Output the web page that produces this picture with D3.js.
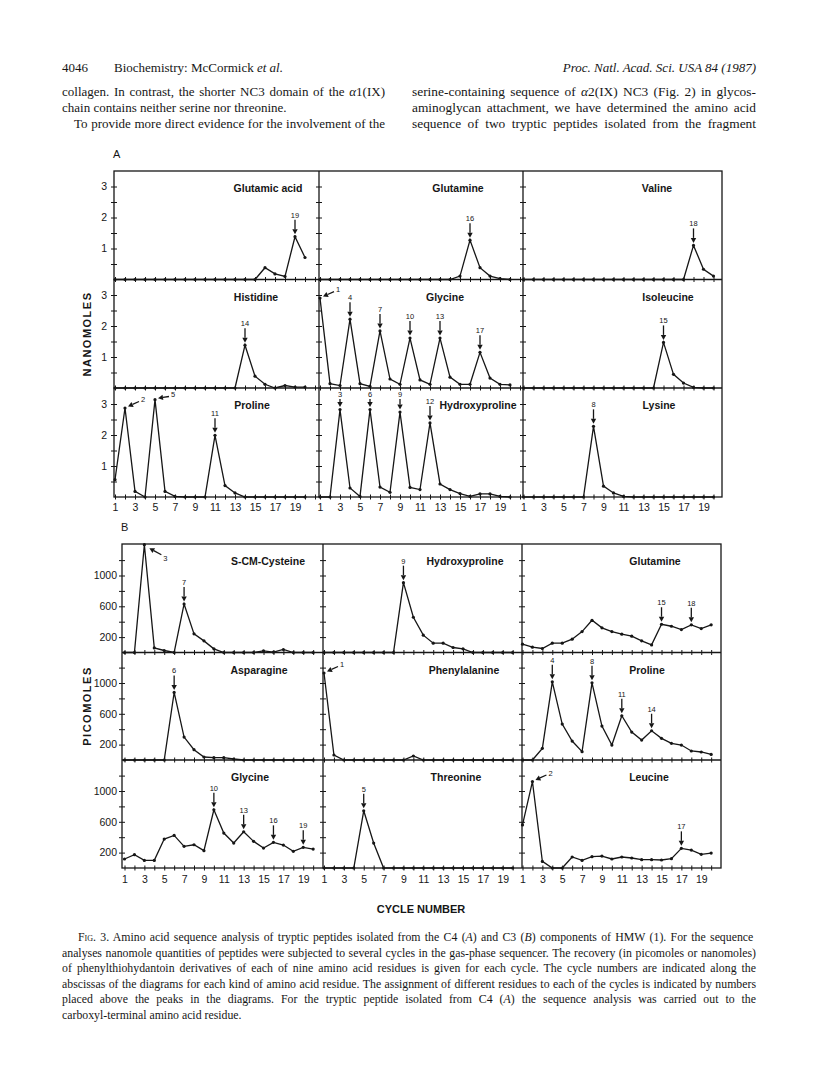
<!DOCTYPE html>
<html>
<head>
<meta charset="utf-8">
<script src="https://cdn.jsdelivr.net/npm/d3@7"></script>
<style>
  body { margin: 0; background: #fff; }
</style>
</head>
<body>
<div id="page"></div>
<script>
// cycle numbers along every abscissa
const cycles = d3.range(1, 21);
const cycleLabels = d3.range(1, 20, 2);

// Fig. 3A (C4 peptide), nanomoles per cycle 1..20
const gluAcidA = [0, 0, 0, 0, 0, 0, 0, 0, 0, 0, 0, 0, 0, 0, 0, 0.38, 0.18, 0.1, 1.38, 0.71];
const glnA = [0, 0, 0, 0, 0, 0, 0, 0, 0, 0, 0, 0, 0, 0, 0.11, 1.27, 0.38, 0.11, 0.03, 0];
const valA = [0, 0, 0, 0, 0, 0, 0, 0, 0, 0, 0, 0, 0, 0, 0, 0, 0, 1.1, 0.33, 0.11];
const hisA = [0, 0, 0, 0, 0, 0, 0, 0, 0, 0, 0, 0, 0, 1.38, 0.38, 0.12, 0, 0.08, 0.03, 0.03];
const glyA = [2.9, 0.14, 0.08, 2.22, 0.14, 0.05, 1.84, 0.29, 0.12, 1.61, 0.26, 0.12, 1.61, 0.35, 0.12, 0.12, 1.15, 0.32, 0.12, 0.1];
const ileA = [0, 0, 0, 0, 0, 0, 0, 0, 0, 0, 0, 0, 0, 0, 1.47, 0.44, 0.16, 0.02, 0, 0];
const proA = [0.56, 2.87, 0.18, 0, 3.14, 0.18, 0.02, 0, 0, 0, 1.99, 0.37, 0.13, 0, 0, 0, 0, 0, 0, 0];
const hypA = [0, 0, 2.82, 0.29, 0.02, 2.82, 0.32, 0.15, 2.74, 0.31, 0.24, 2.39, 0.42, 0.24, 0.11, 0.02, 0.1, 0.1, 0.02, 0];
const lysA = [0, 0, 0, 0, 0, 0, 0, 2.28, 0.35, 0.13, 0.02, 0, 0, 0, 0, 0, 0, 0, 0, 0];

// Fig. 3B (C3 peptide), picomoles per cycle 1..20
const cysB = [0, 0, 1400, 60, 26, 0, 630, 242, 151, 48, 0, 0, 0, 0, 22, 4, 39, 0, 0, 0];
const hypB = [0, 0, 0, 0, 0, 0, 0, 0, 907, 458, 225, 121, 121, 65, 48, 0, 0, 0, 0, 0];
const glnB = [108, 69, 52, 121, 121, 173, 272, 419, 320, 272, 238, 212, 151, 99, 367, 341, 298, 359, 311, 359];
const asnB = [0, 0, 0, 0, 0, 877, 298, 134, 39, 30, 30, 13, 0, 0, 0, 0, 0, 0, 0, 0];
const pheB = [1130, 65, 0, 0, 0, 0, 0, 0, 0, 52, 0, 0, 0, 0, 0, 0, 0, 0, 0, 0];
const proB = [0, 0, 151, 1015, 467, 246, 108, 1002, 441, 194, 575, 363, 259, 380, 281, 216, 194, 117, 104, 73];
const glyB = [117, 173, 99, 99, 376, 423, 281, 302, 225, 756, 454, 324, 471, 346, 259, 333, 298, 216, 268, 246];
const thrB = [0, 0, 0, 0, 743, 324, 0, 0, 0, 0, 0, 0, 0, 0, 0, 0, 0, 0, 0, 0];
const leuB = [560, 1123, 86, 0, 0, 143, 99, 147, 155, 117, 143, 130, 108, 108, 104, 121, 255, 233, 177, 194];

// residue assignments: cycles with a vertical arrow, and cycles with a slanted one
const panelsA = [
  [
    { name: "Glutamic acid", values: gluAcidA, marks: [19], slanted: [] },
    { name: "Glutamine", values: glnA, marks: [16], slanted: [] },
    { name: "Valine", values: valA, marks: [18], slanted: [] },
  ],
  [
    { name: "Histidine", values: hisA, marks: [14], slanted: [] },
    { name: "Glycine", values: glyA, marks: [4, 7, 10, 13, 17], slanted: [1] },
    { name: "Isoleucine", values: ileA, marks: [15], slanted: [] },
  ],
  [
    { name: "Proline", values: proA, marks: [11], slanted: [2, 5] },
    { name: "Hydroxyproline", values: hypA, marks: [3, 6, 9, 12], slanted: [] },
    { name: "Lysine", values: lysA, marks: [8], slanted: [] },
  ],
];

const panelsB = [
  [
    { name: "S-CM-Cysteine", values: cysB, marks: [7], slanted: [], below: [3] },
    { name: "Hydroxyproline", values: hypB, marks: [9], slanted: [] },
    { name: "Glutamine", values: glnB, marks: [15, 18], slanted: [] },
  ],
  [
    { name: "Asparagine", values: asnB, marks: [6], slanted: [] },
    { name: "Phenylalanine", values: pheB, marks: [], slanted: [1] },
    { name: "Proline", values: proB, marks: [4, 8, 11, 14], slanted: [] },
  ],
  [
    { name: "Glycine", values: glyB, marks: [10, 13, 16, 19], slanted: [] },
    { name: "Threonine", values: thrB, marks: [5], slanted: [] },
    { name: "Leucine", values: leuB, marks: [17], slanted: [2] },
  ],
];

// layout only: centre of each panel title, px from the panel's left edge
const titleCentresA = [[154, 139, 134], [142, 126, 145], [138, 159, 136]];
const titleCentresB = [[146, 142, 133], [137, 141, 125], [128, 133, 127]];

const ink = "#161616";
const sans = "'Liberation Sans', Arial, Helvetica, sans-serif";
const serif = "'Liberation Serif', 'Times New Roman', serif";

const svg = d3
  .select("#page")
  .append("svg")
  .attr("width", 816)
  .attr("height", 1072)
  .style("display", "block");

svg.append("rect").attr("width", 816).attr("height", 1072).attr("fill", "#fff");

// ---------- running text ----------
function textLine(parts, x, y, opts = {}) {
  const t = svg
    .append("text")
    .attr("x", x)
    .attr("y", y)
    .attr("font-family", serif)
    .attr("font-size", opts.size || 13)
    .attr("fill", ink)
    .attr("text-anchor", opts.anchor || "start");
  parts.forEach(([s, style]) => {
    const sp = t.append("tspan").text(s);
    if (style === "i") sp.attr("font-style", "italic");
    if (style === "sc") sp.style("font-variant", "small-caps");
  });
  if (opts.justifyTo) {
    const natural = t.node().getComputedTextLength();
    const str = t.text();
    const gaps = (str.match(/ /g) || []).length;
    if (gaps) t.style("word-spacing", (opts.justifyTo - x - natural) / gaps + "px");
  }
  return t;
}

textLine([["4046"]], 62, 72);
textLine([["Biochemistry: McCormick "], ["et al.", "i"]], 114, 72);
textLine([["Proc. Natl. Acad. Sci. USA 84 (1987)", "i"]], 756, 72, { anchor: "end" });

textLine([["collagen. In contrast, the shorter NC3 domain of the "], ["α", "i"], ["1(IX)"]], 62, 96, { justifyTo: 385 });
textLine([["chain contains neither serine nor threonine."]], 62, 112);
textLine([["To provide more direct evidence for the involvement of the"]], 74, 128, { justifyTo: 385 });
textLine([["serine-containing sequence of "], ["α", "i"], ["2(IX) NC3 (Fig. 2) in glycos-"]], 412, 96, { justifyTo: 756, size: 13.4 });
textLine([["aminoglycan attachment, we have determined the amino acid"]], 412, 112, { justifyTo: 756, size: 13.4 });
textLine([["sequence of two tryptic peptides isolated from the fragment"]], 412, 128, { justifyTo: 756, size: 13.4 });

// ---------- figure panels ----------
function arrowHead(g, tip, tail, len, half) {
  const dx = tip[0] - tail[0], dy = tip[1] - tail[1];
  const d = Math.hypot(dx, dy);
  const ux = dx / d, uy = dy / d;
  const bx = tip[0] - ux * len, by = tip[1] - uy * len;
  g.append("path")
    .attr("d", `M${tip[0]},${tip[1]}L${bx - uy * half},${by + ux * half}L${bx + uy * half},${by - ux * half}Z`)
    .attr("fill", ink);
  g.append("line")
    .attr("x1", tail[0]).attr("y1", tail[1])
    .attr("x2", bx).attr("y2", by)
    .attr("stroke", ink).attr("stroke-width", 1.3);
}

function drawFigure(fig) {
  const g = svg.append("g").attr("color", ink);
  const { cols, rows } = fig;
  const nC = cols.length - 1, nR = rows.length - 1;

  fig.panels.forEach((row, r) => {
    row.forEach((p, c) => {
      const x0 = cols[c], x1 = cols[c + 1];
      const yTop = rows[r], yBot = rows[r + 1];
      const start = x0 + fig.offset[c];
      const x = d3.scaleLinear().domain([1, 20]).range([start, start + 19 * fig.step]);
      const y = d3.scaleLinear().domain(fig.yDomain).range([yBot, yBot - fig.yPx]);

      // crossing tick marks on the abscissa
      const xt = d3.range(1, 22).filter((v) => x(v) < x1 - 2);
      g.append("g")
        .attr("transform", `translate(0,${yBot})`)
        .call(d3.axisBottom(x).tickValues(xt).tickSize(2.5).tickFormat(""))
        .call((a) => a.select(".domain").remove());
      g.append("g")
        .attr("transform", `translate(0,${yBot})`)
        .call(d3.axisTop(x).tickValues(xt).tickSize(2.5).tickFormat(""))
        .call((a) => a.select(".domain").remove());

      // crossing tick marks on the ordinate (left axis and column dividers)
      g.append("g")
        .attr("transform", `translate(${x0},0)`)
        .call(d3.axisLeft(y).tickValues(fig.yTicks).tickSize(3).tickFormat(""))
        .call((a) => a.select(".domain").remove());
      g.append("g")
        .attr("transform", `translate(${x0},0)`)
        .call(d3.axisRight(y).tickValues(fig.yTicks).tickSize(3).tickFormat(""))
        .call((a) => a.select(".domain").remove());

      if (c === 0) {
        g.append("g")
          .attr("transform", `translate(${x0},0)`)
          .call(d3.axisLeft(y).tickValues(fig.yLabels).tickSize(0).tickPadding(fig.yPad).tickFormat(d3.format("d")))
          .call((a) => a.select(".domain").remove())
          .selectAll("text")
          .attr("font-family", sans)
          .attr("font-size", 10.5)
          .attr("fill", ink);
      }
      if (r === nR - 1) {
        g.append("g")
          .attr("transform", `translate(0,${yBot})`)
          .call(d3.axisBottom(x).tickValues(cycleLabels).tickSize(0).tickPadding(fig.xPad).tickFormat(d3.format("d")))
          .call((a) => a.select(".domain").remove())
          .selectAll("text")
          .attr("font-family", sans)
          .attr("font-size", 10.5)
          .attr("fill", ink);
      }

      const pts = cycles.map((cy, i) => ({ c: cy, v: p.values[i] }));
      g.append("path")
        .datum(pts)
        .attr("fill", "none")
        .attr("stroke", ink)
        .attr("stroke-width", 1.3)
        .attr("stroke-linejoin", "miter")
        .attr("d", d3.line().x((d) => x(d.c)).y((d) => y(d.v)));
      g.selectAll(null)
        .data(pts)
        .enter()
        .append("circle")
        .attr("cx", (d) => x(d.c))
        .attr("cy", (d) => y(d.v))
        .attr("r", 1.6)
        .attr("fill", ink);

      g.append("text")
        .attr("x", x0 + fig.titleCentres[r][c])
        .attr("y", yTop + 21)
        .attr("text-anchor", "middle")
        .attr("font-family", sans)
        .attr("font-weight", "bold")
        .attr("font-size", 10.5)
        .attr("fill", ink)
        .text(p.name);

      // vertical arrows with the cycle number
      p.marks.forEach((cy) => {
        const px = x(cy), py = y(p.values[cy - 1]);
        const ty = Math.max(py - 19, yTop + 9);
        g.append("text")
          .attr("x", px)
          .attr("y", ty)
          .attr("text-anchor", "middle")
          .attr("font-family", sans)
          .attr("font-size", 7.5)
          .attr("fill", ink)
          .text(cy);
        arrowHead(g, [px, py - 2.5], [px, ty + 2], 5, 2.7);
      });

      // slanted arrows coming from the upper right
      p.slanted.forEach((cy) => {
        const px = x(cy), py = y(p.values[cy - 1]);
        const ly = Math.max(py - 6, yTop + 9);
        arrowHead(g, [px + 3, py - 1.5], [px + 14, ly - 0.5], 5, 2.7);
        g.append("text")
          .attr("x", px + 16)
          .attr("y", ly)
          .attr("font-family", sans)
          .attr("font-size", 7.5)
          .attr("fill", ink)
          .text(cy);
      });

      // slanted arrows coming from the lower right
      (p.below || []).forEach((cy) => {
        const px = x(cy), py = y(p.values[cy - 1]);
        arrowHead(g, [px + 5, py + 3.5], [px + 17, py + 10], 5, 2.7);
        g.append("text")
          .attr("x", px + 19)
          .attr("y", py + 16)
          .attr("font-family", sans)
          .attr("font-size", 7.5)
          .attr("fill", ink)
          .text(cy);
      });
    });
  });

  // frame, row separators and column separators
  g.append("rect")
    .attr("x", cols[0])
    .attr("y", rows[0])
    .attr("width", cols[nC] - cols[0])
    .attr("height", rows[nR] - rows[0])
    .attr("fill", "none")
    .attr("stroke", ink)
    .attr("stroke-width", 1.3);
  rows.slice(1, -1).forEach((yy) =>
    g.append("line").attr("x1", cols[0]).attr("x2", cols[nC]).attr("y1", yy).attr("y2", yy)
      .attr("stroke", ink).attr("stroke-width", 1.3)
  );
  cols.slice(1, -1).forEach((xx) =>
    g.append("line").attr("x1", xx).attr("x2", xx).attr("y1", rows[0]).attr("y2", rows[nR])
      .attr("stroke", ink).attr("stroke-width", 1.3)
  );

  svg.append("text")
    .attr("x", cols[0] - 1)
    .attr("y", rows[0] - 13)
    .attr("font-family", sans)
    .attr("font-size", 11)
    .attr("fill", ink)
    .text(fig.letter);

  svg.append("text")
    .attr("transform", `translate(91,${(rows[0] + rows[nR]) / 2}) rotate(-90)`)
    .attr("text-anchor", "middle")
    .attr("font-family", sans)
    .attr("font-weight", "bold")
    .attr("font-size", 11)
    .attr("letter-spacing", 1.5)
    .attr("fill", ink)
    .text(fig.unit);
}

drawFigure({
  letter: "A",
  unit: "NANOMOLES",
  panels: panelsA,
  titleCentres: titleCentresA,
  cols: [114, 319, 523, 722],
  rows: [171, 279.5, 388, 497],
  offset: [1, 1, 0.5],
  step: 10,
  yDomain: [0, 3.5],
  yPx: 108.5,
  yTicks: [0.5, 1, 1.5, 2, 2.5, 3],
  yLabels: [1, 2, 3],
  yPad: 7,
  xPad: 7,
});

drawFigure({
  letter: "B",
  unit: "PICOMOLES",
  panels: panelsB,
  titleCentres: titleCentresB,
  cols: [122, 323, 522, 721],
  rows: [544, 652.5, 760, 868],
  offset: [2.5, 1, 0.5],
  step: 9.93,
  yDomain: [0, 1400],
  yPx: 107.8,
  yTicks: [200, 400, 600, 800, 1000, 1200],
  yLabels: [200, 600, 1000],
  yPad: 5,
  xPad: 8,
});

svg.append("text")
  .attr("x", 421)
  .attr("y", 913)
  .attr("text-anchor", "middle")
  .attr("font-family", sans)
  .attr("font-weight", "bold")
  .attr("font-size", 11)
  .attr("fill", ink)
  .text("CYCLE NUMBER");

// ---------- legend text ----------
const capX0 = 62, capX1 = 756;
const capSize = 11.8;
textLine([["Fig. 3.", "sc"], ["   Amino acid sequence analysis of tryptic peptides isolated from the C4 ("], ["A", "i"], [") and C3 ("], ["B", "i"], [") components of HMW (1). For the sequence"]], 78, 941, { size: capSize, justifyTo: capX1 });
textLine([["analyses nanomole quantities of peptides were subjected to several cycles in the gas-phase sequencer. The recovery (in picomoles or nanomoles)"]], capX0, 956.5, { size: capSize, justifyTo: capX1 });
textLine([["of phenylthiohydantoin derivatives of each of nine amino acid residues is given for each cycle. The cycle numbers are indicated along the"]], capX0, 972, { size: capSize, justifyTo: capX1 });
textLine([["abscissas of the diagrams for each kind of amino acid residue. The assignment of different residues to each of the cycles is indicated by numbers"]], capX0, 987.5, { size: capSize, justifyTo: capX1 });
textLine([["placed above the peaks in the diagrams. For the tryptic peptide isolated from C4 ("], ["A", "i"], [") the sequence analysis was carried out to the"]], capX0, 1003, { size: capSize, justifyTo: capX1 });
textLine([["carboxyl-terminal amino acid residue."]], capX0, 1018.5, { size: capSize });
</script>
</body>
</html>
